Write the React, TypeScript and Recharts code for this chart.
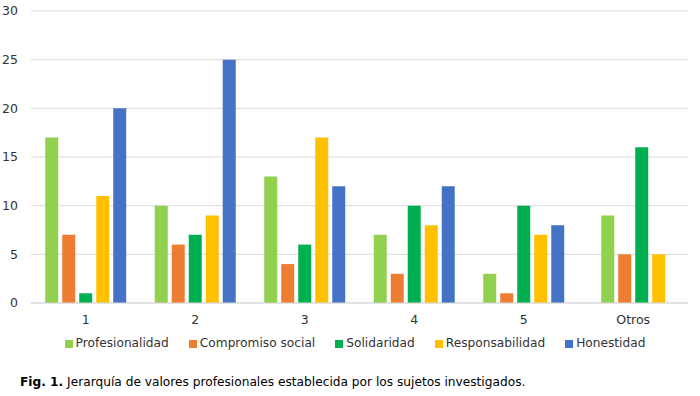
import React from "react";
import { BarChart, Bar, XAxis, YAxis, CartesianGrid, Legend, Rectangle } from "recharts";

const categories = ["1", "2", "3", "4", "5", "Otros"];
const profesionalidad = [17, 10, 13, 7, 3, 9];
const compromisoSocial = [7, 6, 4, 3, 1, 5];
const solidaridad = [1, 7, 6, 10, 10, 16];
const responsabilidad = [11, 9, 17, 8, 7, 5];
const honestidad: (number | null)[] = [20, 25, 12, 12, 8, null];
const yTicks = [0, 5, 10, 15, 20, 25, 30];

const series = [
  { key: "Profesionalidad", values: profesionalidad, color: "#92D050" },
  { key: "Compromiso social", values: compromisoSocial, color: "#ED7D31" },
  { key: "Solidaridad", values: solidaridad, color: "#00B050" },
  { key: "Responsabilidad", values: responsabilidad, color: "#FFC000" },
  { key: "Honestidad", values: honestidad, color: "#4472C4" },
];

const data = categories.map((c, i) => {
  const row: any = { name: c };
  series.forEach((s) => (row[s.key] = s.values[i]));
  return row;
});

const BAR_GAP = 4;
const FONT = "'DejaVu Sans', Verdana, sans-serif";

const ShiftedBar = (props: any) => {
  const { payload, width } = props;
  const missing = payload && payload["Honestidad"] == null;
  const shift = missing ? (width + BAR_GAP) / 2 : 0;
  return <Rectangle {...props} x={props.x + shift} />;
};

const LegendContent = () => (
  <div style={{ display: "flex", justifyContent: "center", fontFamily: FONT, fontSize: 12.2, lineHeight: "15px", color: "#333", paddingLeft: 22 }}>
    {series.map((s, i) => (
      <div key={s.key} style={{ display: "flex", alignItems: "center", marginRight: i < series.length - 1 ? 20 : 0 }}>
        <span style={{ display: "inline-block", width: 8, height: 8, background: s.color, marginRight: 3 }} />
        <span>{s.key}</span>
      </div>
    ))}
  </div>
);

export default function App() {
  return (
    <div style={{ position: "absolute", left: 0, top: 0, width: 700, height: 396, background: "#fff" }}>
      <BarChart
        width={700}
        height={360}
        data={data}
        margin={{ top: 11, right: 12, bottom: 9, left: 0 }}
        barGap={BAR_GAP}
        barCategoryGap="13%"
      >
        <CartesianGrid vertical={false} stroke="#D9D9D9" />
        <XAxis
          dataKey="name"
          axisLine={{ stroke: "#D9D9D9" }}
          tickLine={false}
          tickSize={0}
          tickMargin={12}
          height={30}
          tick={{ fill: "#333", fontSize: 12.5, fontFamily: FONT }}
        />
        <YAxis
          width={31}
          domain={[0, 30]}
          ticks={yTicks}
          axisLine={false}
          tickLine={false}
          tickSize={0}
          tickMargin={13}
          tick={{ fill: "#333", fontSize: 12.5, fontFamily: FONT }}
        />
        <Legend verticalAlign="bottom" content={<LegendContent />} wrapperStyle={{ paddingTop: 3 }} />
        {series.map((s) => (
          <Bar
            key={s.key}
            dataKey={s.key}
            fill={s.color}
            isAnimationActive={false}
            shape={<ShiftedBar />}
          />
        ))}
      </BarChart>
      <div
        style={{
          position: "absolute",
          left: 20,
          top: 375,
          fontFamily: FONT,
          fontSize: 12.2,
          color: "#000",
          whiteSpace: "nowrap",
        }}
      >
        <b>Fig. 1.</b> Jerarquía de valores profesionales establecida por los sujetos investigados.
      </div>
    </div>
  );
}
